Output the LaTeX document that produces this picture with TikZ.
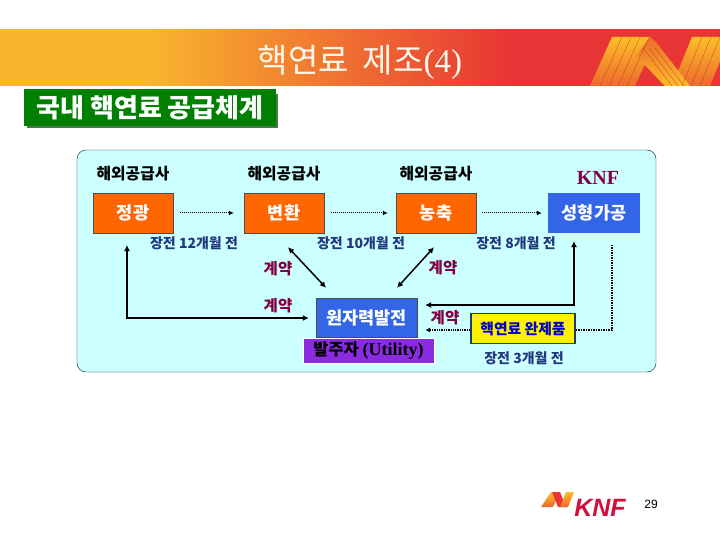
\documentclass[tikz,border=0pt]{standalone}
\usepackage{fontspec}
\usepackage{xcolor}
\usepackage{tikz}
\usetikzlibrary{arrows.meta,positioning,calc}
\newfontfamily\krfont{Noto Sans CJK KR}
\newfontfamily\serifkr{Liberation Serif}
\definecolor{bandorange}{RGB}{249,181,46}
\definecolor{bandred}{RGB}{231,53,53}
\definecolor{ribbonyellow}{RGB}{252,190,40}
\definecolor{ribbonorange}{RGB}{236,105,45}
\definecolor{titlegreen}{RGB}{0,128,0}
\definecolor{panelcyan}{RGB}{204,255,255}
\definecolor{stageorange}{RGB}{255,102,0}
\definecolor{stageblue}{RGB}{51,102,230}
\definecolor{ownerpurple}{RGB}{138,43,226}
\definecolor{leadnavy}{RGB}{35,55,125}
\definecolor{contractred}{RGB}{128,0,64}
\definecolor{knfred}{RGB}{208,16,58}
\begin{document}
\begin{tikzpicture}[
  x=1pt, y=-1pt,
  stagebox/.style={minimum width=80pt, minimum height=40pt, inner sep=0pt, fill=stageorange, draw=black!70, text=white, font=\krfont\fontsize{17.5}{18}\selectfont\bfseries},
  supplier/.style={font=\krfont\fontsize{15.8}{16}\selectfont\bfseries},
  leadtime/.style={text=leadnavy, font=\krfont\fontsize{14}{15}\selectfont\bfseries},
  contract/.style={text=contractred, font=\krfont\fontsize{15.5}{16}\selectfont\bfseries},
  dotarrow/.style={densely dotted, line width=1pt, -{Latex[length=5pt,width=5pt]}},
  bothways/.style={line width=1.5pt, {Latex[length=6pt,width=6pt]}-{Latex[length=6pt,width=6pt]}},
  thickline/.style={line width=2pt, {Latex[length=6pt,width=6pt]}-{Latex[length=6pt,width=6pt]}}
]
\useasboundingbox (0,0) rectangle (720,540);
\fill[white] (0,0) rectangle (720,540);
\begin{scope}
  \clip (0,30) rectangle (720,86);
  \fill[bandorange] (0,20) rectangle (151,96);
  \shade[left color=bandorange, right color=bandred] (150,20) rectangle (510,96);
  \fill[bandred] (509,20) rectangle (720,96);
  \shade[bottom color=ribbonorange, top color=ribbonyellow] (590,86) -- (612,37) -- (650,37) -- (655,42) -- (635,86) -- cycle;
  \shade[bottom color=ribbonorange, top color=ribbonyellow] (672,86) -- (692,37) -- (730,37) -- (710,86) -- cycle;
  \shade[bottom color=ribbonyellow, top color=ribbonorange] (636,56) -- (650,37) -- (656,42) -- (690,86) -- (665,86) -- cycle;
  \foreach \i in {0,1,2,3}
    \draw[bandred!80!black, very thin] ({600+\i*9},86) -- ({622+\i*9},37);
  \foreach \i in {0,1,2}
    \draw[bandred!80!black, very thin] ({672+\i*6},86) -- ({643+\i*6},48);
  \foreach \i in {0,1,2}
    \draw[bandred!80!black, very thin] ({682+\i*9},86) -- ({702+\i*9},37);
\end{scope}
\node[text=white!90!bandorange, font=\krfont\fontsize{33}{34}\selectfont] (title) at (360,62) {핵연료\hspace{14pt}제조{\serifkr(4)}};
\fill[black!50!titlegreen!70] (27,94) rectangle (278,128);
\node[fill=titlegreen, text=white, minimum width=252pt, minimum height=37pt, inner sep=0pt, font=\krfont\fontsize{26}{27}\selectfont\bfseries] (heading) at (150,107.5) {국내 핵연료 공급체계};
\fill[panelcyan, draw=black!70!teal, rounded corners=9pt] (77,150) rectangle (656,372);
\node[stagebox] (jeonggwang) at (133,213) {정광};
\node[stagebox] (byeonhwan) at (284,213) {변환};
\node[stagebox] (nongchuk) at (436,213) {농축};
\node[stagebox, minimum width=92pt, fill=stageblue, draw=none] (seonghyeong) at (594,213) {성형가공};
\node[supplier, above=8pt of jeonggwang] (supplierA) {해외공급사};
\node[supplier, above=8pt of byeonhwan] (supplierB) {해외공급사};
\node[supplier, above=8pt of nongchuk] (supplierC) {해외공급사};
\node[above=5pt of seonghyeong, xshift=4pt, text=contractred, font=\serifkr\fontsize{20}{21}\selectfont\bfseries] (knf) {KNF};
\node[stagebox, minimum width=101pt, minimum height=39pt, fill=stageblue] (utility) at (366.5,317.5) {원자력발전};
\node[fill=ownerpurple, draw=white, line width=1pt, minimum width=131pt, minimum height=25pt, inner sep=0pt, font=\krfont\fontsize{16.5}{17}\selectfont\bfseries] (owner) at (368.5,350.5) {발주자 {\serifkr\fontsize{18}{18}\selectfont(Utility)}};
\node[fill=yellow, draw=leadnavy, line width=1.5pt, minimum width=104pt, minimum height=30pt, inner sep=0pt, text=blue!80!black, font=\krfont\fontsize{14.8}{15}\selectfont\bfseries] (product) at (523,328.5) {핵연료 완제품};
\node[leadtime] (leadA) at (194,243) {장전 12개월 전};
\node[leadtime] (leadB) at (361,243) {장전 10개월 전};
\node[leadtime] (leadC) at (516,243) {장전 8개월 전};
\node[leadtime] (leadD) at (524,358) {장전 3개월 전};
\node[contract] (contractA) at (278,269) {계약};
\node[contract] (contractB) at (278,306) {계약};
\node[contract] (contractC) at (443,268) {계약};
\node[contract] (contractD) at (445,318) {계약};
\coordinate (upleft) at (127,245);
\coordinate (cornerleft) at (127,318);
\coordinate (cornerright) at (574,305);
\coordinate (upright) at (574,241);
\coordinate (cornerdot) at (612,330);
\coordinate (enddot) at (612,245);
\draw[dotarrow] ([xshift=7pt]jeonggwang.east) -- ([xshift=-10pt]byeonhwan.west);
\draw[dotarrow] ([xshift=7pt]byeonhwan.east) -- ([xshift=-8pt]nongchuk.west);
\draw[dotarrow] ([xshift=6pt]nongchuk.east) -- ([xshift=-6pt]seonghyeong.west);
\draw[bothways] ($(byeonhwan.south)+(4,14)$) -- ($(utility.north)+(-40.5,-10)$);
\draw[bothways] ($(nongchuk.south)+(-2,14)$) -- ($(utility.north)+(30.5,-10)$);
\draw[thickline] (upleft) -- (cornerleft) -- ($(utility.west)+(-7,0.5)$);
\draw[thickline] ($(utility.east)+(8,-12.5)$) -- (cornerright) -- (upright);
\draw[densely dotted, line width=1.5pt] ($(product.east)+(0,1.5)$) -- (cornerdot) -- (enddot);
\draw[dotarrow, line width=1.3pt] ($(product.west)+(0,1.5)$) -- ($(utility.east)+(8,12.5)$);
\begin{scope}
  \clip (541,492) rectangle (574,508);
  \shade[bottom color=ribbonorange, top color=ribbonyellow] (541,507) -- (551,492) -- (560,492) -- (553,507) -- cycle;
  \fill[bandred] (552,492) -- (560,492) -- (566,507) -- (558,507) -- cycle;
  \shade[bottom color=ribbonorange, top color=ribbonyellow] (560,507) -- (566,492) -- (574,492) -- (568,507) -- cycle;
\end{scope}
\node[text=knfred, font=\fontspec{Liberation Sans}\fontsize{25}{25}\selectfont\bfseries\itshape, inner sep=0pt] (logotext) at (600,508) {KNF};
\node[font=\fontspec{Liberation Sans}\fontsize{12}{12}\selectfont, inner sep=0pt] (pagenum) at (651,504) {29};
\end{tikzpicture}
\end{document}
